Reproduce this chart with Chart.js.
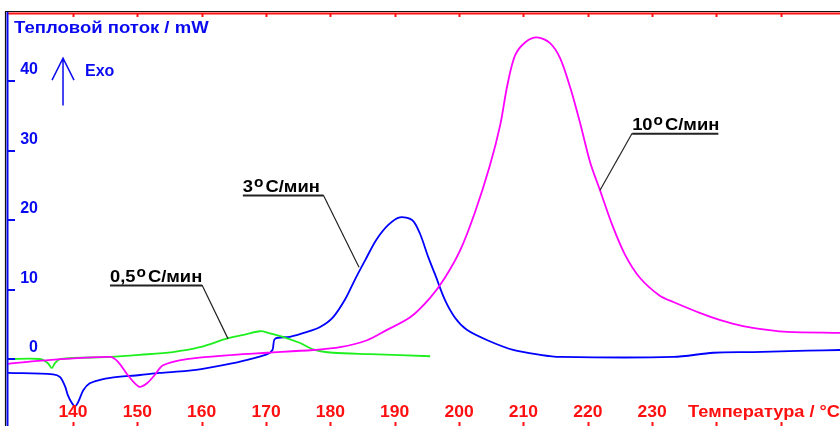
<!DOCTYPE html>
<html>
<head>
<meta charset="utf-8">
<script src="https://cdn.jsdelivr.net/npm/chart.js@4.4.1/dist/chart.umd.min.js"></script>
<style>
  body { margin: 0; background: #fff; }
  #wrap { width: 840px; height: 426px; }
</style>
</head>
<body>
<div id="wrap"><canvas id="dsc"></canvas></div>
<script>
// оси
const xTicks = [140, 150, 160, 170, 180, 190, 200, 210, 220, 230];
const xTickMarks = [140, 150, 160, 170, 180, 190, 200, 210, 220, 230, 240, 250];
const yTicks = [0, 10, 20, 30, 40];

// 0,5 C/мин (зелёная)
const tGreen = [129.9, 134.9, 136.1, 136.7, 137.2, 138.0, 145.8, 150.4, 155.5, 159.7, 164.1, 167.0, 169.1, 170.6, 172.6, 175.3, 177.3, 180.4, 186.2, 195.5];
const qGreen = [0.0, 0.0, -0.6, -1.3, -0.6, 0.0, 0.3, 0.6, 1.0, 1.7, 3.0, 3.6, 4.0, 3.7, 3.2, 2.3, 1.4, 0.9, 0.7, 0.4];

// 3 C/мин (синяя)
const tBlue = [129.9, 136.9, 138.0, 138.8, 139.2, 139.8, 140.3, 140.8, 141.6, 142.6, 144.2, 145.8, 150.4, 153.5, 157.7, 160.8, 164.9, 168.0, 170.2, 171.0, 171.4, 173.7, 176.4, 178.4, 180.4, 182.3, 183.8, 185.4, 187.1, 189.0, 190.8, 192.7, 193.9, 195.2, 196.3, 197.8, 199.4, 201.2, 204.4, 208.4, 212.6, 215.7, 233.3, 239.5, 245.7, 254.1, 259.2];
const qBlue = [-2.0, -2.2, -2.6, -4.0, -5.2, -6.3, -6.8, -6.2, -4.5, -3.5, -3.0, -2.7, -2.3, -2.0, -1.7, -1.3, -0.6, 0.1, 0.7, 1.3, 2.9, 3.2, 3.9, 4.6, 6.0, 8.6, 11.4, 14.2, 17.1, 19.3, 20.4, 20.0, 18.1, 14.7, 12.1, 8.5, 5.9, 4.2, 2.7, 1.3, 0.6, 0.3, 0.3, 0.9, 1.0, 1.2, 1.3];

// 10 C/мин (малиновая)
const tPink = [129.9, 134.1, 145.75, 147.0, 148.5, 150.3, 151.5, 152.7, 154.0, 157.7, 164.9, 170.2, 177.3, 181.5, 185.7, 188.8, 192.4, 195.5, 197.8, 200.2, 202.5, 204.8, 206.4, 207.5, 208.7, 210.3, 212.1, 214.1, 215.7, 217.3, 218.8, 220.4, 221.9, 223.8, 225.8, 228.1, 231.2, 233.3, 237.5, 240.6, 244.1, 247.9, 251.0, 259.2];
const qPink = [-0.7, -0.3, 0.3, -0.4, -2.3, -4.0, -3.5, -2.3, -0.9, 0.0, 0.6, 0.9, 1.3, 1.7, 2.7, 4.2, 6.0, 8.8, 11.7, 15.7, 21.2, 27.9, 33.7, 39.4, 43.7, 45.6, 46.3, 45.5, 43.3, 39.0, 34.0, 28.2, 24.3, 19.3, 15.0, 11.7, 9.1, 8.2, 6.6, 5.6, 4.75, 4.2, 3.9, 3.75];

// подписи скоростей: начало текста, конец черты, точка на кривой
const rateLabels = [
  { num: '0,5', x: 145.75, y: 10.65, endX: 160.05, tipX: 164.1, tipY: 2.9 },
  { num: '3', x: 166.4, y: 23.6, endX: 178.9, tipX: 184.45, tipY: 13.2 },
  { num: '10', x: 226.9, y: 32.5, endX: 240.3, tipX: 221.9, tipY: 24.3, leftLeader: true }
];

const toPts = (t, q) => t.map((v, i) => ({ x: v, y: q[i] }));

const BLUE = '#0a0af0';
const RED = '#ff1010';
const FONT = '"Liberation Sans", Arial, sans-serif';

// растянутый по ширине текст
function wideText(ctx, text, px, py, sx) {
  ctx.save();
  ctx.translate(px, py);
  ctx.scale(sx, 1);
  ctx.fillText(text, 0, 0);
  ctx.restore();
  return ctx.measureText(text).width * sx;
}

const extras = {
  id: 'extras',
  afterDraw(chart) {
    const { ctx, chartArea: a, scales: { x, y } } = chart;
    ctx.save();

    // рамка
    ctx.strokeStyle = '#111';
    ctx.lineWidth = 1.2;
    ctx.beginPath();
    ctx.moveTo(a.left - 2.5, a.bottom);
    ctx.lineTo(a.left - 2.5, a.top - 1.5);
    ctx.lineTo(a.right, a.top - 1.5);
    ctx.stroke();
    ctx.strokeStyle = RED;
    ctx.lineWidth = 2;
    ctx.beginPath();
    ctx.moveTo(a.left, a.top + 0.5);
    ctx.lineTo(a.right, a.top + 0.5);
    ctx.stroke();
    xTickMarks.forEach(v => {
      const px = Math.round(x.getPixelForValue(v)) + 0.5;
      ctx.beginPath();
      ctx.moveTo(px, a.top);
      ctx.lineTo(px, a.top + 4);
      ctx.stroke();
      ctx.beginPath();
      ctx.moveTo(px, a.bottom - 4);
      ctx.lineTo(px, a.bottom);
      ctx.stroke();
    });
    ctx.strokeStyle = BLUE;
    ctx.lineWidth = 2;
    ctx.beginPath();
    ctx.moveTo(a.left - 0.5, a.top - 1);
    ctx.lineTo(a.left - 0.5, a.bottom);
    ctx.stroke();

    // шкала Y
    ctx.fillStyle = BLUE;
    ctx.font = 'bold 16px ' + FONT;
    ctx.textAlign = 'right';
    ctx.textBaseline = 'middle';
    yTicks.forEach(v => {
      const py = Math.round(y.getPixelForValue(v));
      ctx.beginPath();
      ctx.moveTo(a.left, py);
      ctx.lineTo(a.left + 7, py);
      ctx.stroke();
      ctx.fillText(String(v), a.left + 30, py - 11);
    });

    // заголовок оси Y
    ctx.textAlign = 'left';
    ctx.font = 'bold 17px ' + FONT;
    wideText(ctx, 'Тепловой поток / mW', a.left + 6, a.top + 15, 1.09);

    // стрелка Exo
    const ax = x.getPixelForValue(138.45);
    const aTop = y.getPixelForValue(43.3);
    const aBot = y.getPixelForValue(36.5);
    ctx.lineWidth = 1.5;
    ctx.beginPath();
    ctx.moveTo(ax, aBot);
    ctx.lineTo(ax, aTop);
    ctx.moveTo(ax - 11, aTop + 22);
    ctx.lineTo(ax, aTop);
    ctx.lineTo(ax + 11, aTop + 22);
    ctx.stroke();
    ctx.font = 'bold 16px ' + FONT;
    ctx.fillText('Exo', ax + 22, aTop + 13);

    // шкала X
    ctx.fillStyle = RED;
    ctx.font = 'bold 17px ' + FONT;
    ctx.textAlign = 'center';
    xTicks.forEach(v => {
      wideText(ctx, String(v), x.getPixelForValue(v), a.bottom - 14, 1.03);
    });
    ctx.textAlign = 'right';
    wideText(ctx, 'Температура / °C', a.right, a.bottom - 14, 1.07);

    // подписи кривых
    ctx.fillStyle = '#000';
    ctx.strokeStyle = '#222';
    ctx.textAlign = 'left';
    ctx.textBaseline = 'alphabetic';
    rateLabels.forEach(l => {
      const lx = x.getPixelForValue(l.x);
      const ly = y.getPixelForValue(l.y);
      const ex = x.getPixelForValue(l.endX);
      let cx = lx;
      ctx.font = 'bold 17px ' + FONT;
      cx += wideText(ctx, l.num, cx, ly - 3, 1.08) + 1;
      ctx.font = 'bold 14px ' + FONT;
      cx += wideText(ctx, 'o', cx, ly - 8, 1.1) + 2;
      ctx.font = 'bold 17px ' + FONT;
      wideText(ctx, 'C/мин', cx, ly - 3, 1.08);
      ctx.lineWidth = 2;
      ctx.beginPath();
      ctx.moveTo(lx, ly + 0.5);
      ctx.lineTo(ex, ly + 0.5);
      ctx.stroke();
      ctx.lineWidth = 1.2;
      ctx.beginPath();
      ctx.moveTo(l.leftLeader ? lx : ex, ly);
      ctx.lineTo(x.getPixelForValue(l.tipX), y.getPixelForValue(l.tipY));
      ctx.stroke();
    });

    ctx.restore();
  }
};

new Chart(document.getElementById('dsc'), {
  type: 'line',
  data: {
    datasets: [
      { label: '10 C/мин', data: toPts(tPink, qPink), borderColor: '#ff00ff' },
      { label: '0,5 C/мин', data: toPts(tGreen, qGreen), borderColor: '#1ef01e' },
      { label: '3 C/мин', data: toPts(tBlue, qBlue), borderColor: '#0000ff' }
    ]
  },
  options: {
    responsive: true,
    maintainAspectRatio: false,
    animation: false,
    layout: { padding: { left: 8, top: 13, right: 0, bottom: 0 } },
    elements: {
      point: { radius: 0 },
      line: { borderWidth: 1.8, tension: 0.3, fill: false }
    },
    plugins: { legend: { display: false }, tooltip: { enabled: false } },
    scales: {
      x: { type: 'linear', min: 129.9, max: 259.2, display: false },
      y: { min: -9.64, max: 49.8, display: false }
    }
  },
  plugins: [extras]
});
</script>
</body>
</html>
